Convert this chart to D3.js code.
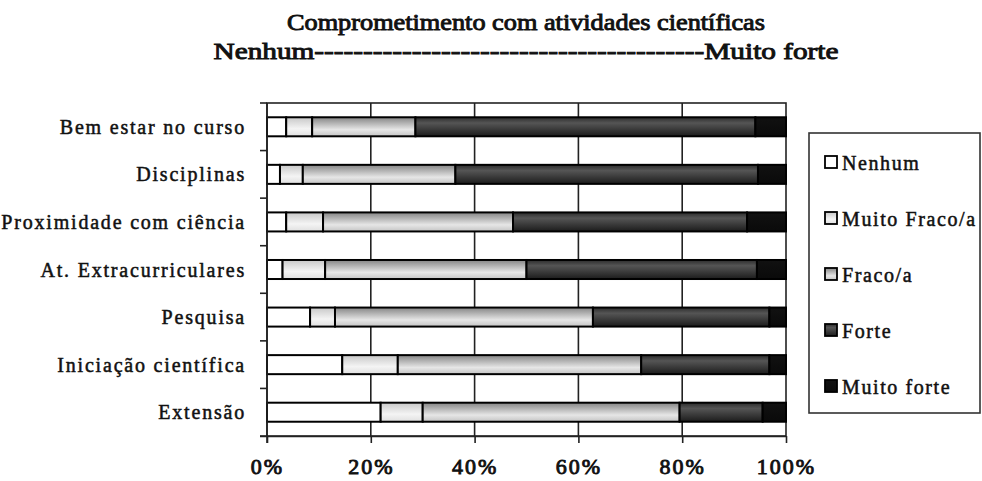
<!DOCTYPE html>
<html>
<head>
<meta charset="utf-8">
<script src="https://cdn.jsdelivr.net/npm/d3@7"></script>
<style>
  html, body { margin: 0; padding: 0; background: #fff; }
  svg { display: block; }
</style>
</head>
<body>
<svg id="chart" width="982" height="481" font-family="'Liberation Serif', Tinos, 'DejaVu Serif', serif"></svg>
<script>
// ---- data ----
const categories = ["Bem estar no curso", "Disciplinas", "Proximidade com ciência",
  "At. Extracurriculares", "Pesquisa", "Iniciação científica", "Extensão"];
const seriesNames = ["Nenhum", "Muito Fraco/a", "Fraco/a", "Forte", "Muito forte"];
const nenhum      = [3.7, 2.5, 3.7, 3.0, 8.3, 14.5, 21.9];
const muitoFraco  = [5.0, 4.4, 7.1, 8.2, 4.8, 10.7, 8.1];
const fraco       = [19.9, 29.4, 36.6, 38.8, 49.7, 46.9, 49.5];
const forte       = [65.5, 58.3, 45.1, 44.4, 34.0, 24.7, 16.0];
const muitoForte  = [5.9, 5.4, 7.5, 5.6, 3.2, 3.2, 4.5];
const xTicks = [0, 20, 40, 60, 80, 100];
const xTickLabels = ["0%", "20%", "40%", "60%", "80%", "100%"];
const titleLine1 = "Comprometimento com atividades científicas";
const titleLine2 = "Nenhum" + "-".repeat(40) + "Muito forte";

const seriesValues = [nenhum, muitoFraco, fraco, forte, muitoForte];
const table = categories.map((c, i) => {
  const row = { cat: c };
  seriesNames.forEach((s, k) => row[s] = seriesValues[k][i]);
  return row;
});

// ---- layout ----
const FONT = "'Liberation Serif', Tinos, 'DejaVu Serif', serif";
const svg = d3.select("#chart");
const pL = 267, pR = 786, pT = 103, pB = 436;

const x = d3.scaleLinear().domain([0, 100]).range([pL, pR]);
const y = d3.scaleBand().domain(categories).range([pT, pB]).paddingInner(0.6).paddingOuter(0.3);

// heavy serif text helper (stroke thickens the regular face)
function heavy(sel, size, sw) {
  return sel.attr("font-family", FONT).attr("font-size", size)
    .attr("fill", "#111").attr("stroke", "#111").attr("stroke-width", sw)
    .attr("paint-order", "stroke");
}

// gradients
const defs = svg.append("defs");
function vgrad(id, stops) {
  const g = defs.append("linearGradient").attr("id", id)
    .attr("x1", 0).attr("y1", 0).attr("x2", 0).attr("y2", 1);
  stops.forEach(s => g.append("stop").attr("offset", s[0]).attr("stop-color", s[1]));
}
vgrad("g0", [[0, "#ffffff"], [1, "#ffffff"]]);
vgrad("g1", [[0, "#c8c8c8"], [0.6, "#f4f4f4"], [1, "#e0e0e0"]]);
vgrad("g2", [[0, "#858585"], [0.65, "#e6e6e6"], [1, "#c4c4c4"]]);
vgrad("g3", [[0, "#2c2c2c"], [0.3, "#555555"], [1, "#1c1c1c"]]);
vgrad("g4", [[0, "#111111"], [1, "#0a0a0a"]]);
const fills = seriesNames.map((s, k) => `url(#g${k})`);

// plot border and gridlines
const gridBand = d3.scaleBand().domain(categories).range([pT, pB]);
svg.append("g").selectAll("line").data(xTicks.slice(1, -1)).join("line")
  .attr("x1", d => x(d)).attr("x2", d => x(d))
  .attr("y1", pT).attr("y2", pB)
  .attr("stroke", "#222").attr("stroke-width", 1.6);
svg.append("rect").attr("x", pL).attr("y", pT)
  .attr("width", pR - pL).attr("height", pB - pT)
  .attr("fill", "none").attr("stroke", "#222").attr("stroke-width", 1.6);

// stacked bars
const stacked = d3.stack().keys(seriesNames)(table);
svg.append("g").selectAll("g").data(stacked).join("g")
  .attr("fill", (d, k) => fills[k])
  .selectAll("rect").data(d => d).join("rect")
  .attr("x", d => x(d[0]))
  .attr("y", d => y(d.data.cat))
  .attr("width", d => x(d[1]) - x(d[0]))
  .attr("height", y.bandwidth())
  .attr("stroke", "#000").attr("stroke-width", 2);

// x axis
const xAxis = d3.axisBottom(x).tickValues(xTicks).tickFormat((d, i) => xTickLabels[i])
  .tickSize(7).tickSizeOuter(0).tickPadding(15);
const gx = svg.append("g").attr("transform", `translate(0,${pB})`).call(xAxis);
gx.attr("font-family", FONT);
gx.select(".domain").attr("stroke", "#222").attr("stroke-width", 1.6)
  .attr("d", `M${pL - 7},0.5H${pR}`);
gx.selectAll(".tick line").attr("stroke", "#222").attr("stroke-width", 1.6);
heavy(gx.selectAll(".tick text"), 22, 0.9).attr("letter-spacing", 2);

// y axis with ticks at band boundaries
const yAxisG = svg.append("g");
yAxisG.append("line").attr("x1", pL).attr("x2", pL).attr("y1", pT).attr("y2", pB + 7)
  .attr("stroke", "#222").attr("stroke-width", 1.6);
const boundaries = categories.map(c => gridBand(c)).concat([pB]);
yAxisG.selectAll("line.t").data(boundaries).join("line").attr("class", "t")
  .attr("x1", pL - 7).attr("x2", pL).attr("y1", d => d).attr("y2", d => d)
  .attr("stroke", "#222").attr("stroke-width", 1.6);
heavy(yAxisG.selectAll("text").data(categories).join("text"), 20, 0.5)
  .attr("x", 246).attr("y", d => y(d) + y.bandwidth() / 2)
  .attr("dy", "0.35em").attr("text-anchor", "end")
  .attr("letter-spacing", 1.8)
  .text(d => d);

// title
heavy(svg.append("text"), 23, 0.9).attr("x", 526).attr("y", 30).attr("text-anchor", "middle")
  .attr("textLength", 478).attr("lengthAdjust", "spacingAndGlyphs")
  .text(titleLine1);
heavy(svg.append("text"), 23, 0.9).attr("x", 526).attr("y", 59).attr("text-anchor", "middle")
  .attr("textLength", 625).attr("lengthAdjust", "spacingAndGlyphs")
  .text(titleLine2);

// legend
const lg = svg.append("g");
lg.append("rect").attr("x", 809).attr("y", 133).attr("width", 171).attr("height", 280)
  .attr("fill", "#fff").attr("stroke", "#333").attr("stroke-width", 1.6);
const ly = d3.scalePoint().domain(seriesNames).range([163, 387]);
const items = lg.selectAll("g").data(seriesNames).join("g")
  .attr("transform", d => `translate(825,${ly(d)})`);
items.append("rect").attr("x", 0).attr("y", -7).attr("width", 12).attr("height", 12)
  .attr("fill", (d, k) => fills[k]).attr("stroke", "#000").attr("stroke-width", 1.8);
heavy(items.append("text"), 20, 0.5).attr("x", 17).attr("y", 0).attr("dy", "0.35em")
  .attr("letter-spacing", 1.6)
  .text(d => d);
</script>
</body>
</html>
